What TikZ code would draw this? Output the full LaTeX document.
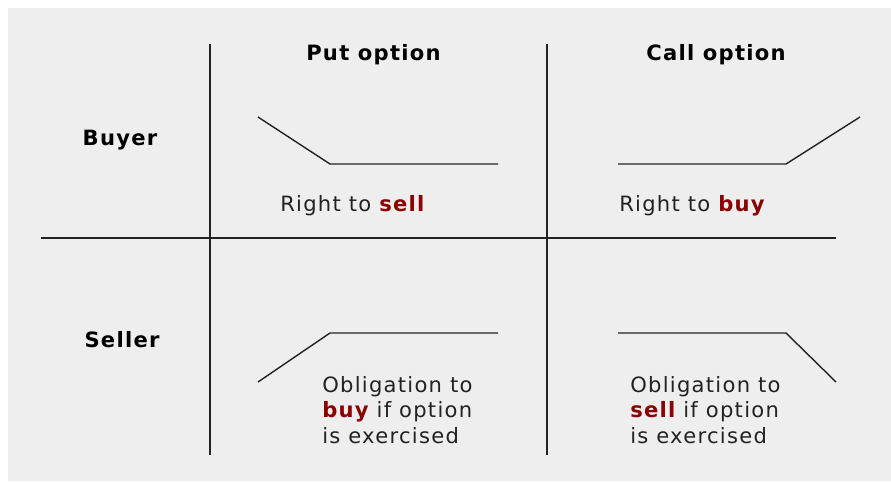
\documentclass[tikz,border=0pt]{standalone}
\usepackage{fontspec}
\setmainfont{DejaVu Sans}
\newfontfamily\panelfont[LetterSpace=6]{DejaVu Sans}
\definecolor{keyred}{HTML}{8B0000}
\definecolor{panelgray}{HTML}{EEEEEE}
\definecolor{inkgray}{HTML}{222222}
\tikzset{
  axisline/.style={inkgray, line width=1.6pt},
  payoff/.style={inkgray, line width=1pt},
  heading/.style={font=\panelfont\fontsize{15}{18}\selectfont\bfseries, anchor=base, inner sep=0pt},
  caption/.style={font=\panelfont\fontsize{15}{18}\selectfont, anchor=base west, inner sep=0pt, align=left, text=inkgray},
}
\newcommand{\keyword}[1]{\textcolor{keyred}{\bfseries #1}}

\begin{document}
\begin{tikzpicture}[x=0.025cm, y=-0.025cm]
	\useasboundingbox (0,0) rectangle (891,481);
	\fill[panelgray] (8,8) rectangle (891,481);
	
	% cross of the table
	\draw[axisline] (210,44) -- (210,455);
	\draw[axisline] (547,44) -- (547,455);
	\draw[axisline] (41,238) -- (836,238);
	
	% column and row headings
	\node[heading] (put) at (373.5,60) {Put option};
	\node[heading] (call) at (716,60) {Call option};
	\node[heading] (buyer) at (120,145) {Buyer};
	\node[heading] (seller) at (122,347) {Seller};
	
	% payoff shapes (buyer row)
	\draw[payoff] (258,117) -- (330,164) -- (498,164);
	\draw[payoff] (618,164) -- (786,164) -- (860,117);
	
	% payoff shapes (seller row)
	\draw[payoff] (258,382) -- (330,333) -- (498,333);
	\draw[payoff] (618,333) -- (786,333) -- (836,382);
	
	% captions (base = last line of the block)
	\node[caption] (putbuy) at (280,211) {Right to \keyword{sell}};
	\node[caption] (callbuy) at (619,211) {Right to \keyword{buy}};
	\node[caption] (putsell) at (322,443) {Obligation to\\\keyword{buy} if option\\is exercised};
	\node[caption] (callsell) at (630,443) {Obligation to\\\keyword{sell} if option\\is exercised};
	
\end{tikzpicture}
\end{document}
